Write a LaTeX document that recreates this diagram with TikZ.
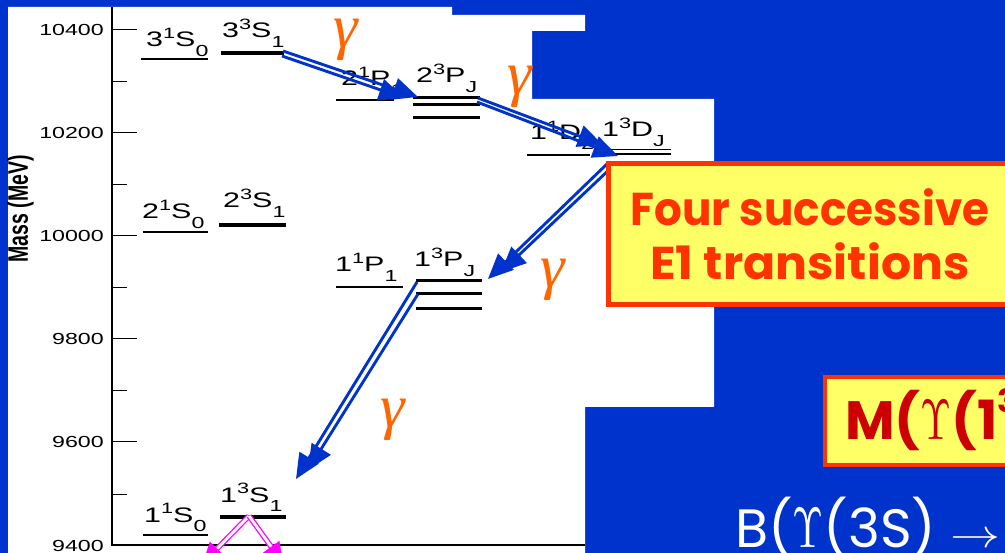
\documentclass[tikz,border=0pt]{standalone}
\usepackage{fontspec}
\setmainfont{Liberation Sans}
\newfontfamily\comicfont{Poppins}
\newfontfamily\timesfont{Liberation Serif}
\usetikzlibrary{arrows.meta,calc}
\definecolor{bgblue}{HTML}{0033CC}
\definecolor{arrblue}{HTML}{0033CC}
\definecolor{gamorange}{HTML}{FF6600}
\definecolor{boxred}{HTML}{FF3300}
\definecolor{boxyellow}{HTML}{FFFF66}
\definecolor{darkred}{HTML}{CC0000}
\definecolor{magarrow}{HTML}{FF00FF}
\newcommand\sx[1]{\scalebox{1.45}[1]{#1}}
\newcommand\lvl[4]{\scalebox{1.45}[1]{#1\raisebox{0.42em}{\fontsize{15}{15}\selectfont #2}#3\raisebox{-0.45em}{\fontsize{16}{16}\selectfont #4}}}
\newcommand\ups{{\fontsize{10}{12}\selectfont\scalebox{4.0}[5.7]{$\Upsilon$}}}
\begin{document}
\begin{tikzpicture}[x=1pt,y=-1pt,
  lvline/.style={line width=#1},
  lvline/.default=2.2pt,
  ticklbl/.style={font=\fontsize{16}{16}\selectfont, anchor=east, inner sep=0pt},
  lvlabel/.style={font=\fontsize{21}{21}\selectfont, anchor=base west, inner sep=0pt},
  gam/.style={text=gamorange, font=\timesfont\itshape\fontsize{62}{62}\selectfont, inner sep=0pt},
  e1arrow/.style={draw=arrblue, line width=2.9pt, -{Triangle[length=25pt,width=22pt]}},
  magline/.style={draw=magarrow, line width=1.3pt, double=white, double distance=2.8pt},
  maghead/.style={draw=magarrow, line width=0.1pt, -{Triangle[length=20pt,width=20pt]}},
  yellowbox/.style={draw=boxred, fill=boxyellow, rectangle, inner sep=0pt}]
\useasboundingbox (0,0) rectangle (1005,553);
\clip (0,0) rectangle (1005,553);
% background
\fill[bgblue] (0,0) rectangle (1005,553);
\fill[white] (8,7) -- (452,7) -- (452,15) -- (585,15) -- (585,31) -- (532,31) -- (532,99)
  -- (714,99) -- (714,407) -- (585,407) -- (585,553) -- (8,553) -- cycle;
% axes
\draw[line width=2.6pt] (112,7) -- (112,545) -- (585,545);
\foreach \y in {30,133,236,339,442} \draw[line width=1pt] (112,\y) -- (137,\y);
\foreach \y in {82,185,288,391,494} \draw[line width=1pt] (112,\y) -- (127,\y);
\node[ticklbl] (tk10400) at (104,30) {\sx{10400}};
\node[ticklbl] (tk10200) at (104,133) {\sx{10200}};
\node[ticklbl] (tk10000) at (104,236) {\sx{10000}};
\node[ticklbl] (tk9800) at (104,339) {\sx{9800}};
\node[ticklbl] (tk9600) at (104,442) {\sx{9600}};
\node[ticklbl] (tk9400) at (104,546) {\sx{9400}};
\node[rotate=90, font=\bfseries\fontsize{19.5}{19.5}\selectfont, inner sep=0pt] (masslbl) at (20.5,209) {\scalebox{1}[1.45]{Mass (MeV)}};
% levels
\draw[lvline=2.5pt] (141,59) -- (208,59);
\draw[lvline=3.3pt] (221,53) -- (284,53);
\draw[lvline] (143,232) -- (208,232);
\draw[lvline=3.3pt] (219,225) -- (286,225);
\draw[lvline] (336,100) -- (394,100);
\foreach \y in {97.5,104.5,117.5} \draw[lvline=3pt] (413,\y) -- (480,\y);
\draw[lvline=1.8pt] (527,155) -- (590,155);
\foreach \y in {149.5,154} \draw[lvline=1.3pt] (605,\y) -- (671,\y);
\draw[lvline] (336,287) -- (403,287);
\foreach \y in {281,293.5,308.3} \draw[lvline=3pt] (416,\y) -- (482,\y);
\draw[lvline] (143,535) -- (208,535);
\draw[lvline=3.3pt] (220,517) -- (286,517);
% level labels
\node[lvlabel] (l31s0) at (146,47) {\lvl{3}{1}{S}{0}};
\node[lvlabel] (l33s1) at (222,38) {\lvl{3}{3}{S}{1}};
\node[lvlabel] (l21s0) at (142,219) {\lvl{2}{1}{S}{0}};
\node[lvlabel] (l23s1) at (223,208) {\lvl{2}{3}{S}{1}};
\node[lvlabel] (l21p1) at (341,86) {\lvl{2}{1}{P}{1}};
\node[lvlabel] (l23pj) at (416,83) {\lvl{2}{3}{P}{J}};
\node[lvlabel] (l11d2) at (530,140) {\lvl{1}{1}{D}{2}};
\node[lvlabel] (l13dj) at (602,137) {\lvl{1}{3}{D}{J}};
\node[lvlabel] (l11p1) at (335,272) {\lvl{1}{1}{P}{1}};
\node[lvlabel] (l13pj) at (414,267) {\lvl{1}{3}{P}{J}};
\node[lvlabel] (l11s0) at (144,522) {\lvl{1}{1}{S}{0}};
\node[lvlabel] (l13s1) at (220,502) {\lvl{1}{3}{S}{1}};
% E1 transition arrows (two strands each)
\coordinate (t1a0) at (283,51);  \coordinate (t1a1) at (418,97);
\coordinate (t1b0) at (282,56);  \coordinate (t1b1) at (404,98);
\coordinate (t2a0) at (477,102); \coordinate (t2a1) at (618,156);
\coordinate (t2b0) at (478,98);  \coordinate (t2b1) at (603,145);
\coordinate (t3a0) at (608,163); \coordinate (t3a1) at (488,279);
\coordinate (t3b0) at (612,167); \coordinate (t3b1) at (501,272);
\coordinate (t4a0) at (417,282); \coordinate (t4a1) at (296,479);
\coordinate (t4b0) at (418,294); \coordinate (t4b1) at (308,470);
\foreach \t in {t1,t2,t3,t4} {
  \draw[e1arrow] (\t a0) -- (\t a1);
  \draw[e1arrow] (\t b0) -- (\t b1);
}
% magenta decays of 1^3S_1
\coordinate (m0) at (249,516);
\coordinate (mL) at (203,563);
\coordinate (mR) at (283,563);
\draw[magline, shorten >=15pt] (m0) -- (mL);
\draw[magline, shorten >=15pt] (m0) -- (mR);
\draw[maghead] ($(mL)!20pt!(m0)$) -- (mL);
\draw[maghead] ($(mR)!20pt!(m0)$) -- (mR);
% photon labels
\node[gam] (g1) at (346,40) {γ};
\node[gam] (g2) at (520,87) {γ};
\node[gam] (g3) at (553,280) {γ};
\node[gam] (g4) at (393,420) {γ};
% boxes
\node[yellowbox, line width=5pt, minimum width=403pt, minimum height=141pt,
  text=boxred, align=center, font=\comicfont\bfseries\fontsize{46}{54}\selectfont]
  (e1box) at (810,234) {\scalebox{0.95}[1]{Four successive}\\\scalebox{1.03}[1]{E1 transitions}};
\node[yellowbox, line width=4pt, minimum width=217pt, minimum height=88pt, anchor=north west]
  (mbox) at (823,375) {};
\node[anchor=base west, inner sep=0pt, text=darkred, font=\comicfont\bfseries\fontsize{54}{54}\selectfont]
  (mtext) at (845,439) {M(\ups(1\raisebox{0.5em}{\fontsize{32}{32}\selectfont 3}};
\node[anchor=base west, inner sep=0pt, text=white, font=\comicfont\fontsize{54}{54}\selectfont]
  (btext) at (735,547) {B(\ups(3S)\ {\fontsize{10}{12}\selectfont\scalebox{5}[4]{$\rightarrow$}}};
\end{tikzpicture}
\end{document}
